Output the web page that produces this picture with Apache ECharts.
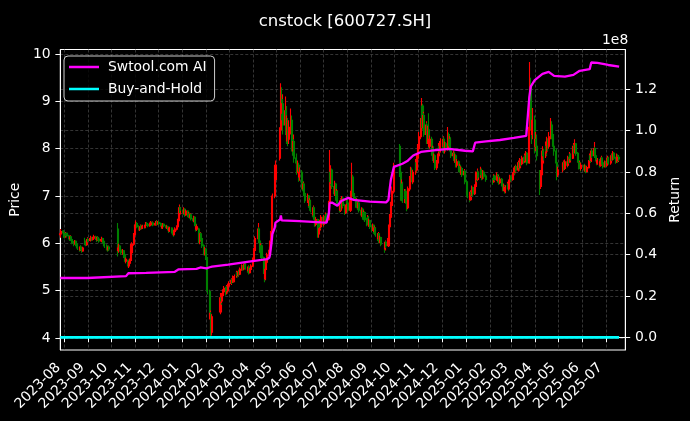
<!DOCTYPE html>
<html><head><meta charset="utf-8">
<script src="https://cdn.jsdelivr.net/npm/echarts@6/dist/echarts.min.js"></script>
<style>html,body{margin:0;padding:0;background:#000;}#c{width:690px;height:421px;}</style>
</head><body><div id="c"></div>
<script>
// ---- Daily candles, each row = [open, close, low, high], one array per month ----
const m2023_07 = [[6.18,6.20,6.12,6.26],[6.20,6.25,6.16,6.30],[6.26,6.22,6.15,6.28]];
const m2023_08 = [[6.22,6.18,6.12,6.25],[6.18,6.15,6.10,6.21],[6.14,6.20,6.12,6.24],[6.21,6.16,6.13,6.23],[6.16,6.12,6.08,6.18],[6.12,6.10,6.05,6.15],[6.09,6.14,6.07,6.17],[6.14,6.08,6.05,6.16],[6.08,6.02,5.98,6.10],[6.01,6.00,5.94,6.05],[5.99,6.04,5.97,6.07],[6.04,5.98,5.95,6.06],[5.98,5.95,5.90,6.00],[5.95,5.90,5.86,5.97],[5.90,5.86,5.82,5.93],[5.86,5.92,5.84,5.95],[5.92,5.88,5.85,5.96],[5.88,5.84,5.80,5.90],[5.84,5.90,5.82,5.93],[6.05,6.02,5.96,6.12],[6.02,5.97,5.94,6.05],[5.97,6.05,5.95,6.08],[6.05,6.08,6.01,6.13]];
const m2023_09 = [[6.08,6.06,6.02,6.11],[6.06,6.10,6.04,6.13],[6.10,6.12,6.07,6.16],[6.12,6.08,6.05,6.14],[6.08,6.11,6.06,6.14],[6.11,6.14,6.08,6.18],[6.14,6.10,6.07,6.16],[6.10,6.07,6.03,6.12],[6.07,6.12,6.05,6.15],[6.12,6.09,6.06,6.15],[6.09,6.05,6.01,6.11],[6.05,6.08,6.02,6.11],[6.08,6.10,6.05,6.14],[6.10,6.04,6.00,6.12],[6.04,5.98,5.94,6.06],[5.98,5.95,5.90,6.01],[5.95,5.90,5.86,5.98],[5.90,5.86,5.82,5.93],[5.86,5.92,5.84,5.95],[5.92,5.88,5.84,5.95]];
const m2023_10 = [[6.30,5.85,5.72,6.43],[5.85,5.90,5.80,5.96],[5.90,5.94,5.85,5.99],[5.94,5.86,5.82,5.97],[5.86,5.80,5.76,5.89],[5.80,5.84,5.76,5.88],[5.84,5.76,5.72,5.86],[5.76,5.70,5.66,5.79],[5.70,5.62,5.58,5.72],[5.62,5.66,5.58,5.70],[5.64,5.52,5.48,5.66],[5.52,5.58,5.48,5.62],[5.58,5.64,5.55,5.68],[5.64,5.80,5.62,5.84],[5.80,5.98,5.78,6.02],[5.98,6.18,5.95,6.22],[6.18,6.34,6.15,6.40]];
const m2023_11 = [[6.34,6.38,6.30,6.45],[6.38,6.42,6.35,6.48],[6.42,6.35,6.32,6.45],[6.35,6.30,6.27,6.38],[6.30,6.33,6.26,6.36],[6.33,6.37,6.30,6.40],[6.37,6.32,6.29,6.39],[6.32,6.36,6.30,6.39],[6.36,6.34,6.31,6.39],[6.34,6.38,6.32,6.41],[6.38,6.42,6.36,6.45],[6.42,6.40,6.37,6.45],[6.40,6.37,6.34,6.42],[6.37,6.41,6.35,6.44],[6.41,6.44,6.38,6.47],[6.44,6.40,6.37,6.46],[6.40,6.43,6.38,6.46],[6.43,6.39,6.36,6.45],[6.39,6.42,6.37,6.45],[6.42,6.46,6.40,6.49],[6.46,6.41,6.38,6.48],[6.41,6.44,6.39,6.47]];
const m2023_12 = [[6.44,6.42,6.38,6.47],[6.42,6.38,6.35,6.44],[6.38,6.33,6.30,6.40],[6.33,6.36,6.30,6.39],[6.36,6.40,6.34,6.43],[6.40,6.37,6.34,6.42],[6.37,6.33,6.30,6.39],[6.33,6.35,6.30,6.38],[6.35,6.30,6.27,6.37],[6.30,6.26,6.22,6.32],[6.26,6.32,6.24,6.35],[6.32,6.28,6.24,6.34],[6.28,6.22,6.18,6.30],[6.22,6.18,6.14,6.25],[6.18,6.25,6.16,6.28],[6.25,6.30,6.22,6.34],[6.30,6.35,6.27,6.38],[6.35,6.48,6.33,6.52],[6.48,6.62,6.45,6.68],[6.62,6.75,6.58,6.82],[6.75,6.70,6.64,6.78]];
const m2024_01 = [[6.70,6.65,6.60,6.74],[6.65,6.72,6.62,6.76],[6.72,6.60,6.56,6.74],[6.60,6.68,6.58,6.71],[6.68,6.58,6.55,6.70],[6.58,6.62,6.54,6.66],[6.62,6.55,6.52,6.65],[6.55,6.60,6.52,6.63],[6.60,6.52,6.48,6.62],[6.52,6.48,6.44,6.55],[6.48,6.55,6.45,6.58],[6.55,6.40,6.36,6.57],[6.40,6.30,6.25,6.43],[6.30,6.35,6.26,6.40],[6.30,6.05,6.00,6.33],[6.05,6.12,5.98,6.16],[6.12,6.20,6.08,6.24],[6.20,6.10,6.06,6.23],[6.10,5.95,5.90,6.14],[5.95,5.80,5.75,5.98],[5.80,5.88,5.74,5.92],[5.88,5.70,5.65,5.90]];
const m2024_02 = [[5.70,5.42,5.38,5.74],[5.40,5.00,4.92,5.45],[4.98,4.55,4.48,5.02],[4.40,4.52,4.05,4.58],[4.50,4.15,4.02,4.55],[4.12,4.45,4.05,4.50],[4.55,4.85,4.50,4.95],[4.85,4.78,4.70,4.92],[4.78,4.90,4.74,4.95],[4.90,4.98,4.85,5.03],[4.98,5.05,4.92,5.10],[5.05,4.95,4.90,5.08],[4.95,5.08,4.92,5.12],[5.08,5.00,4.95,5.12],[5.00,5.10,4.96,5.15]];
const m2024_03 = [[5.10,5.15,5.05,5.20],[5.15,5.22,5.12,5.26],[5.22,5.18,5.14,5.25],[5.18,5.28,5.16,5.32],[5.28,5.20,5.17,5.30],[5.20,5.30,5.18,5.34],[5.30,5.38,5.27,5.42],[5.38,5.32,5.28,5.40],[5.32,5.40,5.30,5.44],[5.40,5.35,5.31,5.43],[5.35,5.45,5.33,5.49],[5.45,5.52,5.42,5.56],[5.52,5.46,5.42,5.54],[5.46,5.50,5.43,5.54],[5.50,5.56,5.47,5.60],[5.56,5.48,5.44,5.58],[5.48,5.42,5.38,5.50],[5.42,5.50,5.40,5.53],[5.50,5.38,5.34,5.52],[5.38,5.45,5.36,5.48],[5.45,5.52,5.43,5.56]];
const m2024_04 = [[5.52,5.65,5.50,5.70],[5.65,5.85,5.62,5.90],[5.85,6.10,5.82,6.15],[6.10,6.30,6.05,6.43],[6.30,6.05,6.00,6.34],[6.05,5.85,5.80,6.08],[5.85,5.95,5.80,6.00],[5.95,5.70,5.65,5.98],[5.70,5.40,5.35,5.72],[5.40,5.25,5.18,5.45],[5.25,5.45,5.22,5.50],[5.45,5.60,5.42,5.66],[5.60,5.75,5.56,5.80],[5.75,5.85,5.70,5.92],[5.85,6.00,5.82,6.06],[6.00,6.20,5.96,6.26],[6.20,6.60,6.15,6.65],[6.60,7.00,6.55,7.05],[7.00,7.35,6.95,7.45],[7.35,7.65,7.30,7.75]];
const m2024_05 = [[7.80,8.40,7.75,8.45],[8.40,9.10,8.35,9.38],[9.10,8.75,8.60,9.30],[8.75,8.95,8.55,9.15],[8.95,8.50,8.30,9.05],[8.50,8.80,8.35,9.10],[8.80,8.30,8.10,8.90],[8.30,8.55,8.15,8.70],[8.55,8.20,8.05,8.65],[8.20,8.45,8.10,8.60],[8.45,8.60,8.30,8.85],[8.60,8.10,8.00,8.70],[8.10,7.95,7.85,8.25],[7.95,8.15,7.85,8.30],[8.15,7.80,7.70,8.20],[7.80,7.70,7.60,7.90],[7.70,7.55,7.45,7.80],[7.55,7.65,7.48,7.75],[7.65,7.40,7.30,7.70],[7.40,7.50,7.32,7.60]];
const m2024_06 = [[7.50,7.30,7.25,7.55],[7.30,7.15,7.10,7.35],[7.15,7.25,7.10,7.30],[7.25,7.05,7.00,7.28],[7.05,6.90,6.85,7.08],[6.90,7.00,6.85,7.05],[7.00,6.80,6.75,7.02],[6.80,6.90,6.75,6.95],[6.90,6.70,6.65,6.92],[6.70,6.60,6.55,6.74],[6.60,6.75,6.56,6.80],[6.75,6.55,6.50,6.78],[6.55,6.40,6.35,6.58],[6.40,6.50,6.36,6.55],[6.50,6.20,6.12,6.52],[6.20,6.28,6.12,6.32],[6.28,6.45,6.25,6.50],[6.45,6.35,6.30,6.48],[6.35,6.55,6.32,6.60]];
const m2024_07 = [[6.55,6.40,6.35,6.58],[6.40,6.55,6.36,6.60],[6.55,6.45,6.40,6.58],[6.45,6.60,6.42,6.65],[6.60,6.50,6.45,6.64],[6.50,6.85,6.48,6.90],[6.85,7.50,6.82,7.97],[7.50,7.30,7.22,7.60],[7.30,7.55,7.25,7.65],[7.55,7.20,7.15,7.58],[7.20,7.05,7.00,7.25],[7.05,7.25,7.00,7.32],[7.25,6.95,6.90,7.28],[6.95,7.10,6.90,7.15],[7.10,6.85,6.80,7.12],[6.85,6.70,6.65,6.88],[6.70,6.90,6.66,6.95],[6.90,6.75,6.70,6.93],[6.75,6.95,6.72,7.00],[6.95,6.80,6.75,6.98],[6.80,6.65,6.60,6.83],[6.65,6.78,6.62,6.82],[6.78,6.90,6.75,6.95]];
const m2024_08 = [[6.90,6.85,6.80,6.95],[6.85,6.70,6.65,6.88],[6.70,6.95,6.66,7.00],[6.95,7.10,6.90,7.18],[7.10,7.40,7.05,7.70],[7.40,7.05,7.00,7.45],[7.05,6.95,6.90,7.10],[6.95,6.80,6.75,6.98],[6.80,6.90,6.76,6.95],[6.90,6.75,6.70,6.93],[6.75,6.85,6.70,6.90],[6.85,6.70,6.65,6.88],[6.70,6.60,6.55,6.74],[6.60,6.72,6.56,6.76],[6.72,6.55,6.50,6.75],[6.55,6.65,6.50,6.70],[6.65,6.50,6.45,6.68],[6.50,6.42,6.36,6.54],[6.42,6.55,6.38,6.60],[6.55,6.40,6.35,6.58],[6.40,6.48,6.35,6.52],[6.48,6.35,6.30,6.50]];
const m2024_09 = [[6.35,6.30,6.25,6.38],[6.30,6.38,6.26,6.42],[6.38,6.25,6.20,6.40],[6.25,6.32,6.20,6.36],[6.32,6.18,6.14,6.34],[6.18,6.10,6.05,6.22],[6.10,6.20,6.06,6.24],[6.20,6.05,6.00,6.22],[6.05,6.12,6.00,6.16],[6.12,5.98,5.94,6.14],[5.98,5.88,5.80,6.02],[5.88,6.02,5.85,6.06],[6.02,5.95,5.90,6.05],[5.95,6.10,5.92,6.15],[6.10,6.35,6.08,6.40],[6.35,6.55,6.30,6.62],[6.55,6.80,6.50,6.88],[6.80,7.10,6.75,7.20],[7.10,7.60,7.05,7.70]];
const m2024_10 = [[8.05,7.50,7.40,8.10],[7.50,6.95,6.90,7.55],[6.95,7.25,6.90,7.35],[7.25,6.90,6.85,7.30],[6.90,7.10,6.85,7.15],[7.10,6.95,6.90,7.15],[6.95,6.85,6.78,7.00],[6.85,6.75,6.68,6.90],[6.75,7.15,6.72,7.20],[7.15,7.35,7.10,7.42],[7.35,7.55,7.30,7.62],[7.55,7.40,7.35,7.60],[7.40,7.30,7.25,7.45],[7.30,7.50,7.26,7.55],[7.50,7.70,7.45,7.78],[7.70,7.55,7.50,7.75],[7.55,7.80,7.52,7.88],[7.80,8.00,7.75,8.10]];
const m2024_11 = [[8.00,8.25,7.95,8.35],[8.25,8.55,8.20,8.65],[8.55,8.90,8.50,9.07],[8.90,8.45,8.40,8.95],[8.45,8.70,8.40,8.78],[8.70,8.30,8.25,8.75],[8.30,8.50,8.25,8.58],[8.50,8.15,8.10,8.55],[8.15,8.40,8.10,8.48],[8.40,8.05,8.00,8.75],[8.05,8.20,8.00,8.28],[8.20,7.90,7.85,8.25],[7.90,8.00,7.85,8.06],[8.00,7.75,7.70,8.05],[7.75,7.85,7.70,7.90],[7.85,7.60,7.55,7.88],[7.60,7.70,7.55,7.76],[7.70,7.85,7.66,7.90],[7.85,8.05,7.80,8.12],[8.05,7.95,7.90,8.10],[7.95,8.15,7.92,8.22]];
const m2024_12 = [[8.15,8.05,8.00,8.20],[8.05,8.20,8.00,8.26],[8.20,7.95,7.90,8.24],[7.95,8.10,7.90,8.15],[8.10,8.00,7.95,8.14],[8.00,8.30,7.96,8.46],[8.30,8.10,8.05,8.34],[8.10,8.20,8.05,8.26],[8.20,7.95,7.90,8.24],[7.95,7.85,7.80,8.00],[7.85,7.90,7.80,7.96],[7.90,7.75,7.70,7.94],[7.75,7.85,7.70,7.90],[7.85,7.65,7.60,7.88],[7.65,7.72,7.60,7.78],[7.72,7.55,7.50,7.75],[7.55,7.62,7.50,7.68],[7.62,7.50,7.45,7.66],[7.50,7.58,7.45,7.63],[7.58,7.45,7.40,7.62],[7.45,7.52,7.40,7.57],[7.52,7.30,7.25,7.55]];
const m2025_01 = [[7.30,7.10,7.05,7.34],[7.10,7.00,6.95,7.14],[7.00,6.92,6.87,7.05],[6.92,7.08,6.90,7.12],[7.08,7.02,6.98,7.12],[7.02,7.18,7.00,7.22],[7.18,7.05,7.00,7.20],[7.05,7.20,7.02,7.25],[7.20,7.45,7.18,7.52],[7.45,7.35,7.30,7.50],[7.35,7.50,7.32,7.58],[7.50,7.40,7.35,7.54],[7.40,7.55,7.38,7.62],[7.55,7.45,7.40,7.58],[7.45,7.38,7.33,7.50],[7.38,7.50,7.35,7.55],[7.50,7.42,7.38,7.54],[7.42,7.35,7.30,7.46]];
const m2025_02 = [[7.35,7.30,7.24,7.38],[7.30,7.42,7.28,7.46],[7.42,7.35,7.31,7.45],[7.35,7.45,7.32,7.50],[7.45,7.32,7.28,7.47],[7.32,7.40,7.30,7.44],[7.40,7.28,7.24,7.42],[7.28,7.35,7.25,7.39],[7.35,7.25,7.20,7.38],[7.25,7.15,7.10,7.28],[7.15,7.22,7.10,7.26],[7.22,7.10,7.05,7.24],[7.10,7.18,7.06,7.22],[7.18,7.25,7.15,7.30],[7.25,7.15,7.10,7.28],[7.15,7.30,7.12,7.35],[7.30,7.40,7.27,7.45],[7.40,7.35,7.30,7.44]];
const m2025_03 = [[7.35,7.45,7.32,7.50],[7.45,7.55,7.42,7.60],[7.55,7.50,7.45,7.58],[7.50,7.62,7.48,7.66],[7.62,7.55,7.50,7.65],[7.55,7.70,7.52,7.75],[7.70,7.60,7.55,7.73],[7.60,7.75,7.58,7.80],[7.75,7.68,7.63,7.78],[7.68,7.80,7.65,7.85],[7.80,7.72,7.68,7.83],[7.72,7.85,7.70,7.90],[7.85,7.75,7.70,7.88],[7.75,7.90,7.72,7.95],[7.90,7.70,7.65,7.93],[7.70,8.45,7.68,8.50],[8.40,9.30,8.30,9.83],[9.30,8.70,8.40,9.50],[8.70,8.30,8.10,8.80],[8.30,8.60,8.20,8.86],[8.60,8.05,7.90,8.70]];
const m2025_04 = [[8.05,8.20,7.95,8.35],[8.20,8.05,7.95,8.30],[8.05,7.85,7.75,8.10],[7.50,7.20,7.02,7.55],[7.20,7.45,7.15,7.55],[7.45,7.70,7.40,7.80],[7.70,7.95,7.66,8.05],[7.95,7.85,7.75,8.00],[7.85,8.05,7.80,8.15],[8.05,7.95,7.85,8.12],[7.95,8.15,7.90,8.25],[8.15,8.05,7.95,8.22],[8.05,8.25,8.00,8.35],[8.25,8.50,8.20,8.65],[8.50,8.30,8.20,8.58],[8.30,8.15,8.05,8.38],[8.15,8.05,7.95,8.22],[8.05,7.95,7.85,8.12],[7.95,7.70,7.60,8.00],[7.70,7.45,7.33,7.75],[7.45,7.55,7.40,7.62]];
const m2025_05 = [[7.55,7.62,7.50,7.68],[7.62,7.70,7.58,7.75],[7.70,7.58,7.54,7.73],[7.58,7.72,7.55,7.77],[7.72,7.65,7.60,7.75],[7.65,7.80,7.62,7.85],[7.80,7.72,7.68,7.83],[7.72,7.88,7.70,7.93],[7.88,7.80,7.75,7.90],[7.80,7.95,7.78,8.00],[7.95,8.05,7.92,8.12],[8.05,7.92,7.88,8.08],[7.92,8.10,7.90,8.20],[8.10,7.90,7.85,8.12],[7.90,7.75,7.70,7.93],[7.75,7.62,7.56,7.78],[7.62,7.70,7.58,7.74],[7.70,7.58,7.52,7.72],[7.58,7.65,7.54,7.70]];
const m2025_06 = [[7.65,7.55,7.50,7.68],[7.55,7.62,7.52,7.66],[7.62,7.52,7.48,7.65],[7.52,7.60,7.50,7.64],[7.60,7.72,7.58,7.76],[7.72,7.85,7.70,7.90],[7.85,7.75,7.70,7.88],[7.75,7.95,7.72,8.00],[7.95,7.85,7.80,7.98],[7.85,8.00,7.82,8.14],[8.00,7.85,7.80,8.03],[7.85,7.78,7.73,7.88],[7.78,7.70,7.65,7.80],[7.70,7.75,7.66,7.80],[7.75,7.65,7.60,7.78],[7.65,7.72,7.62,7.76],[7.72,7.80,7.70,7.85],[7.80,7.70,7.66,7.83],[7.70,7.62,7.58,7.73],[7.62,7.70,7.60,7.75]];
const m2025_07 = [[7.70,7.65,7.60,7.74],[7.65,7.72,7.62,7.76],[7.72,7.80,7.70,7.85],[7.80,7.70,7.66,7.83],[7.70,7.75,7.66,7.80],[7.75,7.85,7.72,7.90],[7.85,7.78,7.74,7.88],[7.78,7.90,7.75,7.95],[7.90,7.80,7.76,7.93],[7.80,7.72,7.68,7.83],[7.72,7.85,7.70,7.90],[7.85,7.75,7.70,7.88],[7.75,7.82,7.72,7.86],[7.82,7.78,7.74,7.86]];

// month, first calendar day used, rows
const candleMonths = [
  ['2023-07',27,m2023_07],['2023-08',1,m2023_08],['2023-09',1,m2023_09],['2023-10',1,m2023_10],
  ['2023-11',1,m2023_11],['2023-12',1,m2023_12],['2024-01',1,m2024_01],['2024-02',1,m2024_02],
  ['2024-03',1,m2024_03],['2024-04',1,m2024_04],['2024-05',1,m2024_05],['2024-06',1,m2024_06],
  ['2024-07',1,m2024_07],['2024-08',1,m2024_08],['2024-09',1,m2024_09],['2024-10',1,m2024_10],
  ['2024-11',1,m2024_11],['2024-12',1,m2024_12],['2025-01',1,m2025_01],['2025-02',1,m2025_02],
  ['2025-03',1,m2025_03],['2025-04',1,m2025_04],['2025-05',1,m2025_05],['2025-06',1,m2025_06],
  ['2025-07',1,m2025_07]
];
// Exchange holidays (weekdays without trading)
const holidays = ['2023-09-29','2023-10-02','2023-10-03','2023-10-04','2023-10-05','2023-10-06',
  '2024-01-01','2024-02-09','2024-02-12','2024-02-13','2024-02-14','2024-02-15','2024-02-16',
  '2024-04-04','2024-04-05','2024-05-01','2024-05-02','2024-05-03','2024-06-10',
  '2024-09-16','2024-09-17','2024-10-01','2024-10-02','2024-10-03','2024-10-04','2024-10-07',
  '2025-01-01','2025-01-28','2025-01-29','2025-01-30','2025-01-31','2025-02-03','2025-02-04',
  '2025-04-04','2025-05-01','2025-05-02','2025-05-05','2025-06-02'];

// Strategy return (units of 1e8)
const stratDates = ['2023-07-27','2023-08-31','2023-09-01','2023-10-20','2023-10-23','2023-11-15','2023-12-22','2023-12-27','2024-01-19','2024-01-24','2024-02-01','2024-02-05','2024-02-08','2024-02-29','2024-03-29','2024-04-12','2024-04-19','2024-04-22','2024-04-23','2024-04-24','2024-04-25','2024-04-26','2024-04-29','2024-04-30','2024-05-06','2024-05-07','2024-05-08','2024-05-31','2024-06-28','2024-07-05','2024-07-08','2024-07-09','2024-07-12','2024-07-19','2024-07-24','2024-08-02','2024-08-09','2024-08-30','2024-09-20','2024-09-23','2024-09-24','2024-09-26','2024-09-30','2024-10-11','2024-10-18','2024-10-25','2024-11-04','2024-11-20','2024-12-10','2024-12-31','2025-01-10','2025-01-13','2025-01-27','2025-02-14','2025-03-04','2025-03-20','2025-03-21','2025-03-24','2025-03-26','2025-03-31','2025-04-10','2025-04-18','2025-04-25','2025-05-09','2025-05-20','2025-05-28','2025-06-10','2025-06-12','2025-06-20','2025-07-04','2025-07-18'];
const stratVals = [0.287,0.287,0.296,0.296,0.310,0.312,0.317,0.329,0.331,0.338,0.334,0.339,0.342,0.352,0.368,0.375,0.378,0.385,0.40,0.43,0.46,0.50,0.53,0.555,0.57,0.59,0.566,0.562,0.556,0.555,0.60,0.65,0.652,0.637,0.66,0.675,0.665,0.657,0.653,0.665,0.70,0.76,0.825,0.84,0.855,0.88,0.897,0.905,0.912,0.903,0.90,0.942,0.948,0.955,0.965,0.975,0.98,1.164,1.215,1.245,1.275,1.285,1.265,1.262,1.27,1.29,1.298,1.33,1.328,1.318,1.31];
// Buy-and-hold return (units of 1e8)
const bhDates = ['2023-07-27','2025-07-18'];
const bhVals = [0, 0];

const priceTicks = [4,5,6,7,8,9,10];
const returnTicks = [0,0.2,0.4,0.6,0.8,1.0,1.2];

// ---- build ----
function t(s){ const p = s.split('-').map(Number); return new Date(p[0], p[1]-1, p[2]).getTime(); }
function pad(n){ return (n<10?'0':'')+n; }
const candleData = [];
candleMonths.forEach(([ym, start, rows]) => {
  const [y, m] = ym.split('-').map(Number);
  const nDays = new Date(y, m, 0).getDate();
  const days = [];
  for (let d = start; d <= nDays; d++) {
    const dt = new Date(y, m-1, d);
    const wd = dt.getDay();
    if (wd === 0 || wd === 6) continue;
    if (holidays.indexOf(ym + '-' + pad(d)) >= 0) continue;
    days.push(dt.getTime());
  }
  rows.forEach((r, i) => { if (i < days.length) candleData.push([days[i], r[0], r[1], r[2], r[3]]); });
});
const stratData = stratDates.map((d, i) => [t(d), stratVals[i]]);
const bhData = bhDates.map((d, i) => [t(d), bhVals[i]]);

const DAY = 86400000;
const FS = 13.9;
const gridLine = { show: true, lineStyle: { color: '#4a4a4a', type: [3, 2], width: 0.7 } };
const chart = echarts.init(document.getElementById('c'), null, { renderer: 'canvas' });
chart.setOption({
  backgroundColor: '#000',
  animation: false,
  textStyle: { fontFamily: 'DejaVu Sans' },
  title: { text: 'cnstock [600727.SH]', left: 'center', top: 8,
    textStyle: { color: '#fff', fontSize: 16.5, fontWeight: 'normal', fontFamily: 'DejaVu Sans' } },
  legend: {
    left: 64, top: 56, orient: 'vertical',
    data: [{ name: 'Swtool.com AI', icon: 'rect' }, { name: 'Buy-and-Hold', icon: 'rect' }],
    itemWidth: 30, itemHeight: 2.5, itemGap: 6,
    padding: [3, 8, 4, 5],
    backgroundColor: 'rgba(0,0,0,0.8)', borderColor: '#cccccc', borderWidth: 1, borderRadius: 4,
    textStyle: { color: '#fff', fontSize: FS, lineHeight: 16, padding: [0, 0, 0, 4], fontFamily: 'DejaVu Sans' }
  },
  grid: { left: 58, right: 61, top: 49.5, bottom: 71, show: true, borderColor: '#fff', borderWidth: 1, backgroundColor: 'transparent' },
  xAxis: {
    type: 'time', min: t('2023-07-27'), max: t('2025-07-26'),
    splitNumber: 24, minInterval: 28 * DAY, maxInterval: 31 * DAY,
    axisLine: { show: true, lineStyle: { color: '#fff' } },
    axisTick: { show: true, length: 4.9, lineStyle: { color: '#fff' } },
    axisLabel: { rotate: 45, color: '#fff', fontSize: FS, margin: 9.7, padding: [0, 8, 0, 0],
      formatter: '{yyyy}-{MM}', hideOverlap: false, fontFamily: 'DejaVu Sans' },
    splitLine: gridLine
  },
  yAxis: [
    { type: 'value', position: 'left', min: 3.746, max: 10.095, scale: true,
      name: 'Price', nameLocation: 'middle', nameGap: 34, nameRotate: 90,
      nameTextStyle: { color: '#fff', fontSize: FS, fontFamily: 'DejaVu Sans' },
      axisLine: { show: true, lineStyle: { color: '#fff' } },
      axisTick: { show: true, length: 4.9, customValues: priceTicks, lineStyle: { color: '#fff' } },
      axisLabel: { customValues: priceTicks, color: '#fff', fontSize: FS, margin: 9.7, fontFamily: 'DejaVu Sans' },
      splitLine: gridLine },
    { type: 'value', position: 'right', min: -0.0615, max: 1.393, scale: true,
      name: 'Return', nameLocation: 'middle', nameGap: 35, nameRotate: 90,
      nameTextStyle: { color: '#fff', fontSize: FS, fontFamily: 'DejaVu Sans' },
      axisLine: { show: true, lineStyle: { color: '#fff' } },
      axisTick: { show: true, length: 4.9, customValues: returnTicks, lineStyle: { color: '#fff' } },
      axisLabel: { customValues: returnTicks, color: '#fff', fontSize: FS, margin: 9.7,
        formatter: v => v.toFixed(1), fontFamily: 'DejaVu Sans' },
      splitLine: gridLine }
  ],
  graphic: [{ type: 'text', left: 602, top: 33, style: { text: '1e8', fill: '#fff', font: FS + 'px "DejaVu Sans"' } }],
  series: [
    { type: 'candlestick', name: 'Price', yAxisIndex: 0, data: candleData, barWidth: 1.6, z: 2,
      itemStyle: { color: '#ff0000', color0: '#008000', borderColor: '#ff0000', borderColor0: '#008000', borderWidth: 1.1 } },
    { type: 'line', name: 'Swtool.com AI', yAxisIndex: 1, data: stratData, showSymbol: false, symbol: 'none', z: 4,
      lineStyle: { color: '#ff00ff', width: 2.3 }, itemStyle: { color: '#ff00ff' } },
    { type: 'line', name: 'Buy-and-Hold', yAxisIndex: 1, data: bhData, showSymbol: false, symbol: 'none', z: 4,
      lineStyle: { color: '#00ffff', width: 2.8 }, itemStyle: { color: '#00ffff' } }
  ]
});
</script></body></html>
